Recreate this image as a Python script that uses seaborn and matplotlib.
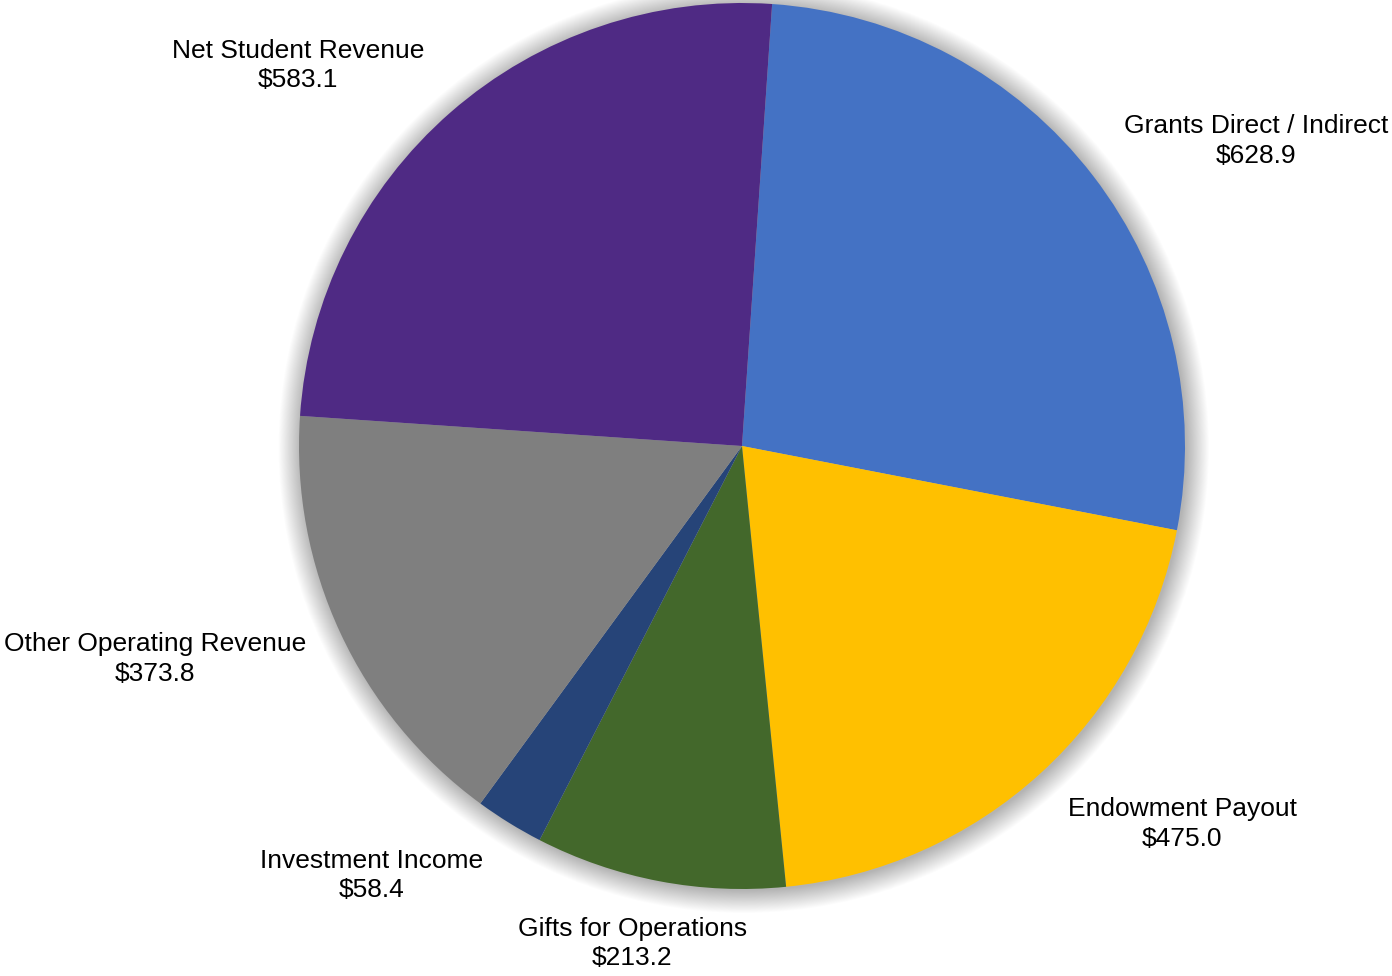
import numpy as np
import matplotlib
matplotlib.use("Agg")
import matplotlib.pyplot as plt
import seaborn as sns
from matplotlib.patches import Circle

sns.set_theme(style="white")
plt.rcParams['font.family'] = ['Liberation Sans', 'DejaVu Sans']

# receitas (milhões)
categorias = ['Grants Direct / Indirect', 'Endowment Payout', 'Gifts for Operations',
              'Investment Income', 'Other Operating Revenue', 'Net Student Revenue']
valores = [628.9, 475.0, 213.2, 58.4, 373.8, 583.1]
cores = ['#4472C4', '#FFC000', '#43682B', '#264478', '#7F7F7F', '#4F2A84']

# distancia e desvio angular de cada rótulo (estilo "best fit" do Excel)
dist_rotulo = [1.35, 1.31, 1.15, 1.28, 1.41, 1.32]
desvio_ang = [-6.9, 7.0, -1.7, -9.1, -5.0, 8.3]

fig = plt.figure(figsize=(13.92, 9.76), dpi=100)
ax = fig.add_axes([0, 0, 1, 1])

# sombra suave em volta da pizza
for r in np.linspace(1.05, 1.0, 25):
    ax.add_patch(Circle((0.004, -0.004), r, color='#000000', alpha=0.011, lw=0, zorder=0))

wedges, _ = ax.pie(valores, colors=cores, startangle=86.1, counterclock=False,
                   radius=1.0, wedgeprops=dict(linewidth=0, zorder=2))

for w, cat, val, d, dv in zip(wedges, categorias, valores, dist_rotulo, desvio_ang):
    ang = np.deg2rad((w.theta1 + w.theta2) / 2 + dv)
    x, y = d * np.cos(ang), d * np.sin(ang)
    ax.text(x, y, f'{cat}\n${val:.1f}', ha='center', va='center', fontsize=19,
            linespacing=1.28, color='black', zorder=5,
            bbox=dict(boxstyle='square,pad=0.1', fc='white', ec='none'))

ax.set_xlim(-742 / 443, (1392 - 742) / 443)
ax.set_ylim(-(976 - 446) / 443, 446 / 443)
ax.set_aspect('auto')
ax.axis('off')

fig.savefig('out.png', dpi=100, facecolor='white')
